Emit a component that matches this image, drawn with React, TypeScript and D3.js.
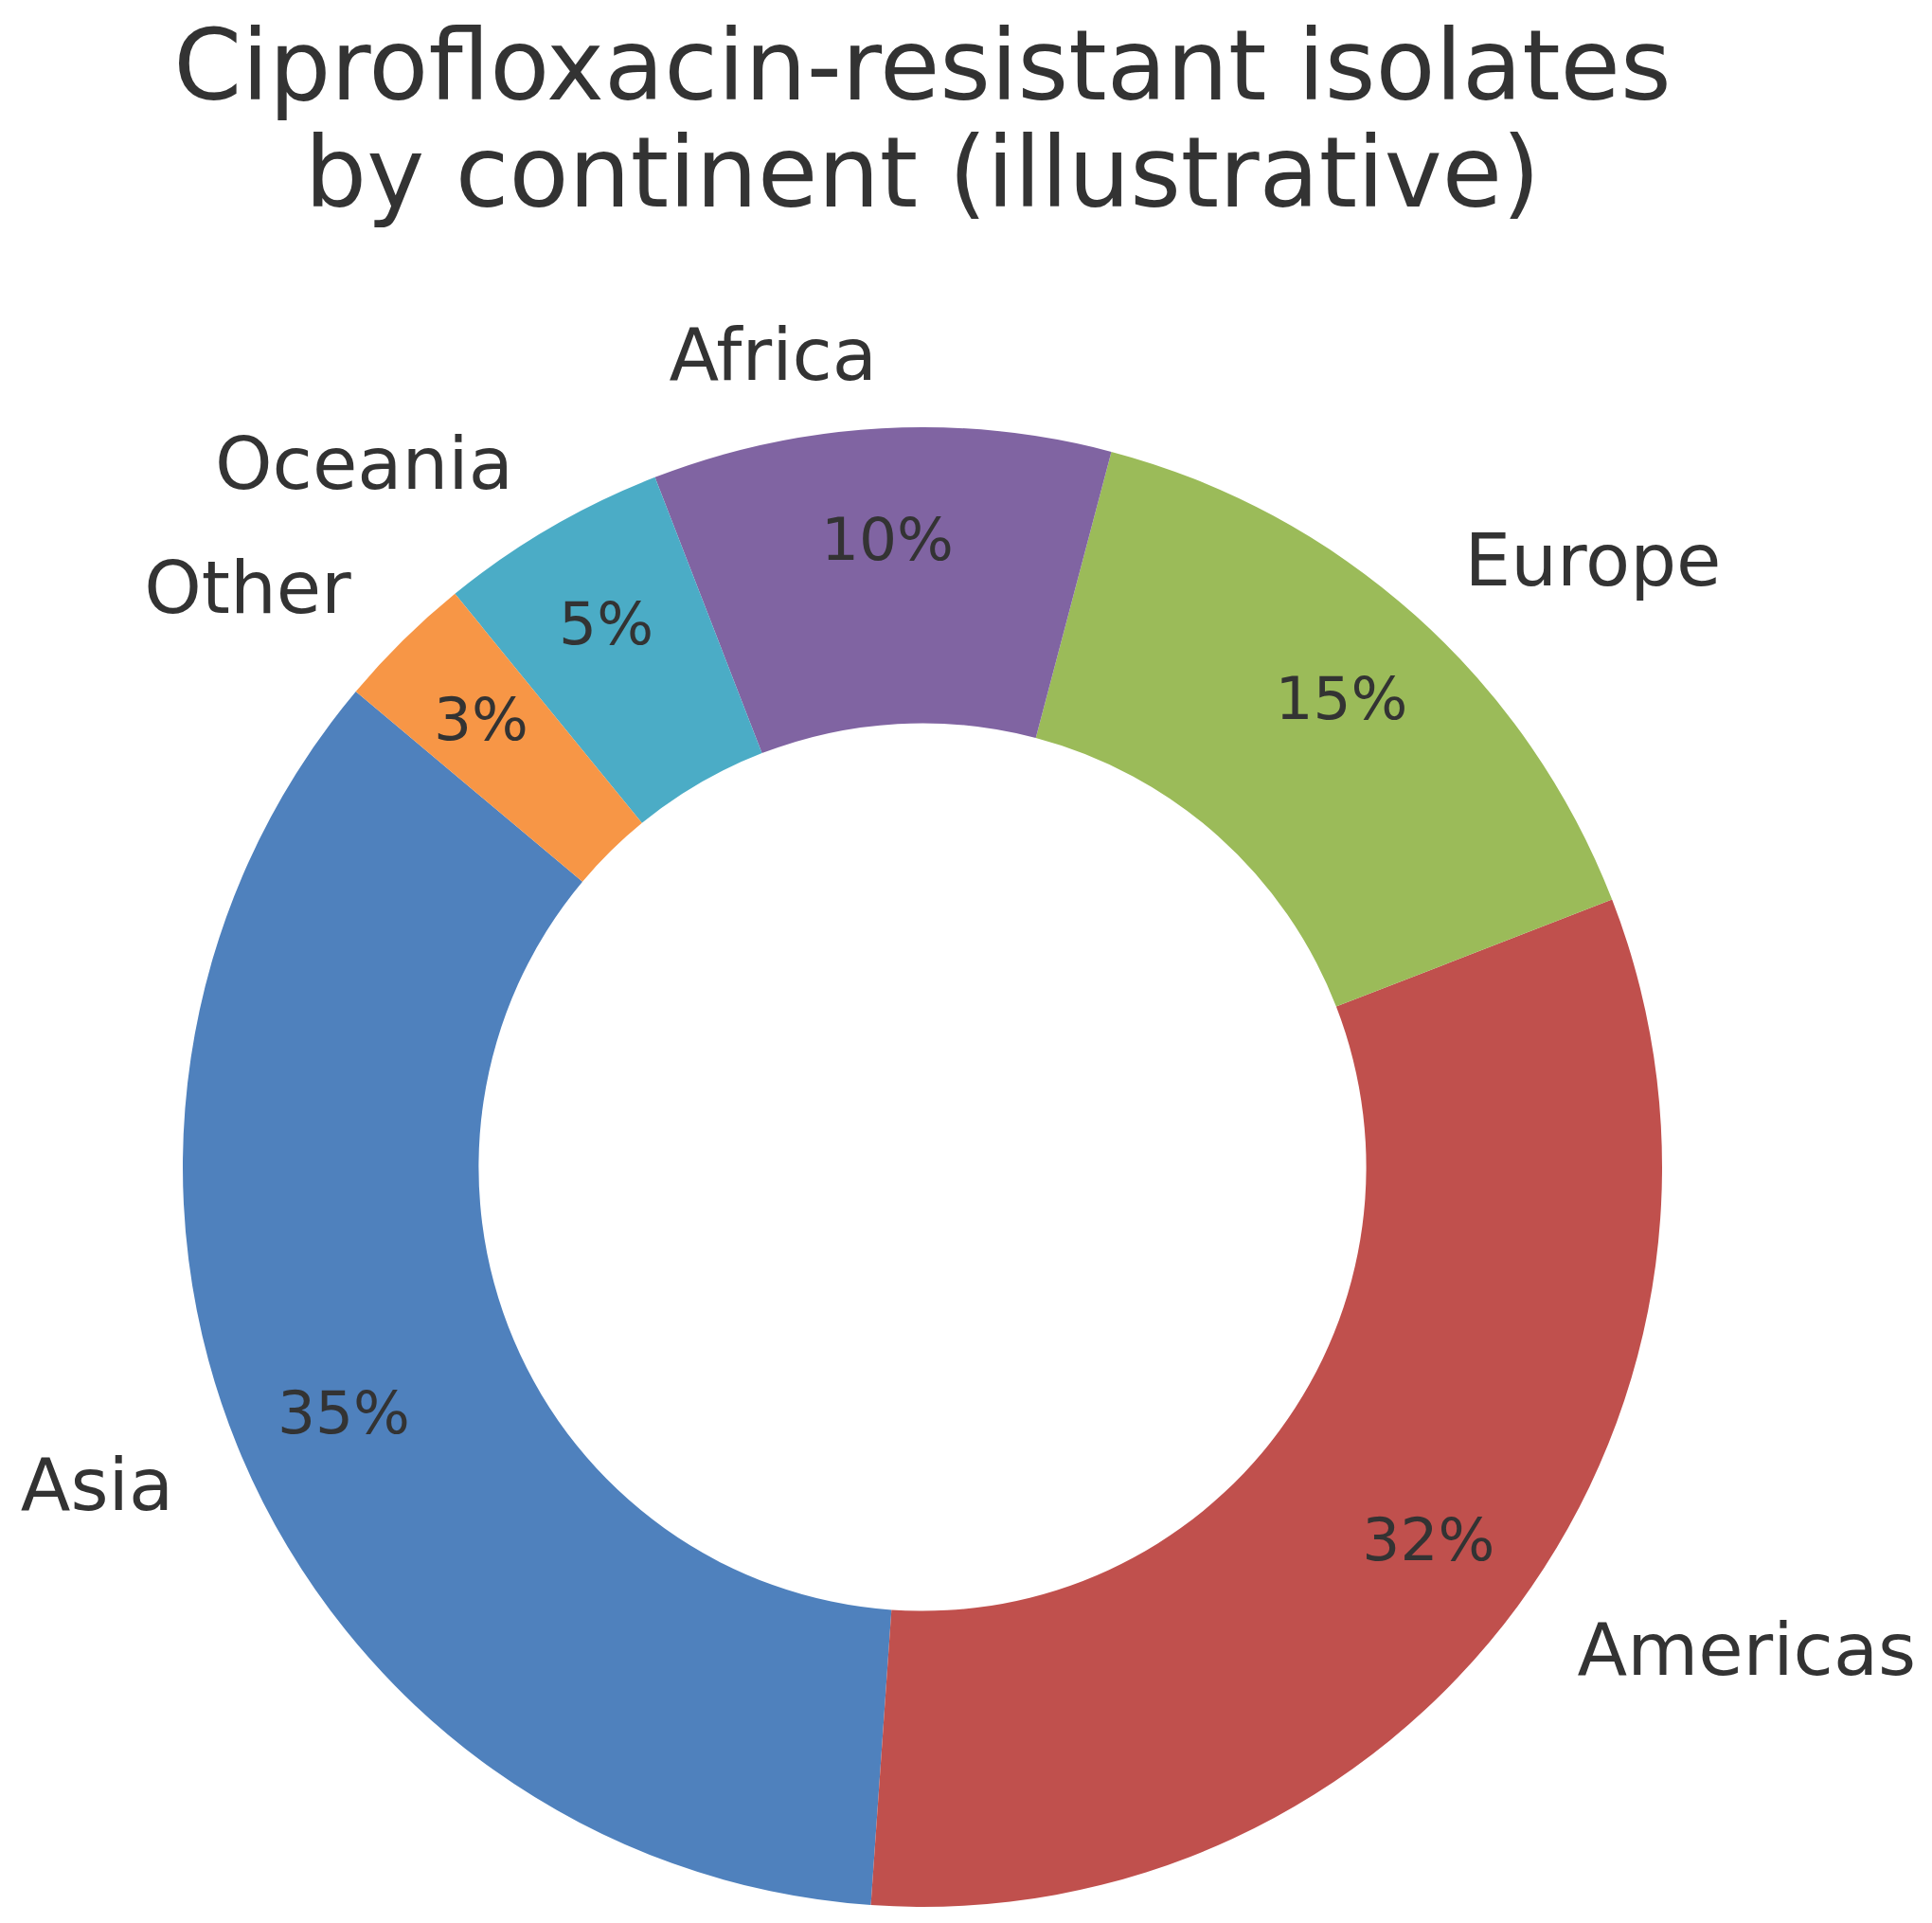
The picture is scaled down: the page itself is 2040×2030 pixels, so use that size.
import * as d3 from "d3";

const regions = ["Asia", "Americas", "Europe", "Africa", "Oceania", "Other"];
const shares = [35, 32, 15, 10, 5, 3];
const sliceColors = ["#4F81BD", "#C0504D", "#9BBB59", "#8064A2", "#4BACC6", "#F79646"];
const titleLines = ["Ciprofloxacin-resistant isolates", "by continent (illustrative)"];

const W = 2040;
const H = 2030;

export default function App() {
  const cx = 974;
  const cy = 1232;
  const R = 781;
  const inner = R * 0.6;
  const font = "DejaVu Sans, sans-serif";

  // matplotlib startangle=140, counter-clockwise -> d3 angles (clockwise from 12 o'clock)
  const start = ((90 - 140) * Math.PI) / 180;
  const pie = d3
    .pie<number>()
    .sort(null)
    .startAngle(start)
    .endAngle(start - 2 * Math.PI);
  const arcs = pie(shares);
  const arcGen = d3.arc<d3.PieArcDatum<number>>().innerRadius(inner).outerRadius(R);
  const total = d3.sum(shares);

  return (
    <svg
      width={W}
      height={H}
      style={{ position: "absolute", left: 0, top: 0, background: "#fff" }}
    >
      <text textAnchor="middle" fontFamily={font} fontSize={103} fill="#333">
        <tspan x={cx} y={105}>{titleLines[0]}</tspan>
        <tspan x={cx} y={218}>{titleLines[1]}</tspan>
      </text>
      <g transform={`translate(${cx},${cy})`}>
        {arcs.map((a, i) => (
          <path key={regions[i]} d={arcGen(a) || ""} fill={sliceColors[i]} />
        ))}
        {arcs.map((a, i) => {
          const mid = (a.startAngle + a.endAngle) / 2;
          const lx = 1.1 * R * Math.sin(mid);
          const ly = -1.1 * R * Math.cos(mid);
          const px = 0.85 * R * Math.sin(mid);
          const py = -0.85 * R * Math.cos(mid);
          return (
            <g key={"t" + regions[i]}>
              <text
                x={lx}
                y={ly}
                textAnchor={lx < 0 ? "end" : "start"}
                dominantBaseline="central"
                fontFamily={font}
                fontSize={77}
                fill="#333"
              >
                {regions[i]}
              </text>
              <text
                x={px}
                y={py}
                textAnchor="middle"
                dominantBaseline="central"
                fontFamily={font}
                fontSize={63}
                fill="#333"
              >
                {`${Math.round((shares[i] / total) * 100)}%`}
              </text>
            </g>
          );
        })}
      </g>
    </svg>
  );
}
